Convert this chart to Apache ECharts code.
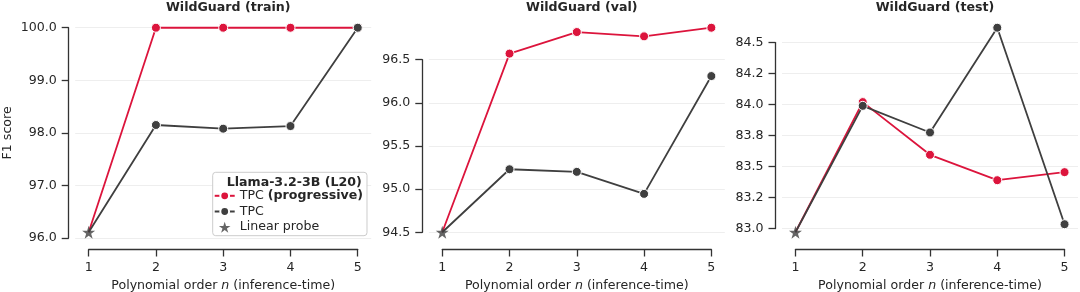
<!DOCTYPE html>
<html><head><meta charset="utf-8">
<script src="https://cdn.jsdelivr.net/npm/echarts@6/dist/echarts.min.js"></script>
<style>html,body{margin:0;padding:0;background:#fff}#c{width:1080px;height:292px}</style>
</head><body><div id="c"></div>
<script>
// ---- data ----
const orders = [1, 2, 3, 4, 5];
const panelTitles = ['WildGuard (train)', 'WildGuard (val)', 'WildGuard (test)'];
const linearProbe = [96.11, 94.5, 82.97];
const tpcProgTrain = [96.11, 100.0, 100.0, 100.0, 100.0];
const tpcTrain     = [96.11, 98.15, 98.08, 98.13, 100.0];
const tpcProgVal   = [94.5, 96.57, 96.82, 96.77, 96.87];
const tpcVal       = [94.5, 95.23, 95.20, 94.945, 96.31];
const tpcProgTest  = [82.97, 84.02, 83.595, 83.39, 83.455];
const tpcTest      = [82.97, 83.99, 83.775, 84.62, 83.035];
const trainTicks = [96, 97, 98, 99, 100];
const trainTickLabels = ['96.0', '97.0', '98.0', '99.0', '100.0'];
const valTicks = [94.5, 95.0, 95.5, 96.0, 96.5];
const valTickLabels = ['94.5', '95.0', '95.5', '96.0', '96.5'];
const testTicks = [83.0, 83.25, 83.5, 83.75, 84.0, 84.25, 84.5];
const testTickLabels = ['83.0', '83.2', '83.5', '83.8', '84.0', '84.2', '84.5'];
const legendTitle = 'Llama-3.2-3B (L20)';
const nameProg = 'TPC (progressive)';
const nameTPC = 'TPC';
const nameLinear = 'Linear probe';
const yLabel = 'F1 score';
const xLabel = 'Polynomial order {i|n} (inference-time)';

// ---- style / layout ----
const RED = '#DC143C', GRAY = '#3f3f3f', TXT = '#262626', SPINE = '#333333';
const FONT = 'DejaVu Sans', FS = 12.6;
const axLeft = [75.2, 428.8, 782.0], axW = 296, axTop = 17.5, axH = 225;
const xMin = 0.8, xMax = 5.2;
const STAR = 'path://M50,0 L61.2,34.5 L97.6,34.5 L68.2,55.9 L79.4,90.5 L50,69.1 L20.6,90.5 L31.8,55.9 L2.4,34.5 L38.8,34.5 Z';

const panels = [
  {prog: tpcProgTrain, tpc: tpcTrain, ticks: trainTicks, labels: trainTickLabels},
  {prog: tpcProgVal, tpc: tpcVal, ticks: valTicks, labels: valTickLabels},
  {prog: tpcProgTest, tpc: tpcTest, ticks: testTicks, labels: testTickLabels}
];

const gridBase = {containLabel: false, outerBoundsMode: 'none'};
const grid = [], xAxis = [], yAxis = [], series = [], title = [];
panels.forEach((p, i) => {
  const all = p.prog.concat(p.tpc, [linearProbe[i]]);
  const dmin = Math.min(...all), dmax = Math.max(...all);
  const lo = dmin - 0.05 * (dmax - dmin), hi = dmax + 0.05 * (dmax - dmin);
  const tMin = p.ticks[0], tMax = p.ticks[p.ticks.length - 1];
  const pxY = v => axTop + (hi - v) / (hi - lo) * axH;
  const pxX = v => axLeft[i] + (v - xMin) / (xMax - xMin) * axW;
  const g0 = grid.length;
  // main data grid
  grid.push(Object.assign({left: axLeft[i], top: axTop, width: axW, height: axH}, gridBase));
  xAxis.push({gridIndex: g0, type: 'value', min: xMin, max: xMax, show: false});
  yAxis.push({gridIndex: g0, type: 'value', min: lo, max: hi, show: false});
  // x spine grid (trimmed to ticks)
  grid.push(Object.assign({left: pxX(1), top: axTop, width: pxX(5) - pxX(1), height: axH}, gridBase));
  xAxis.push({gridIndex: g0 + 1, type: 'value', min: orders[0], max: orders[orders.length - 1], interval: 1,
    position: 'bottom', offset: 7,
    axisLine: {show: true, onZero: false, lineStyle: {color: SPINE, width: 1.3}},
    axisTick: {show: true, length: 7, lineStyle: {color: SPINE, width: 1.3}},
    axisLabel: {margin: 12, color: TXT, fontFamily: FONT, fontSize: FS},
    splitLine: {show: false},
    name: xLabel, nameLocation: 'middle', nameGap: 29,
    nameTextStyle: {color: TXT, fontFamily: FONT, fontSize: FS, rich: {i: {fontStyle: 'italic', fontFamily: FONT, fontSize: FS, color: TXT}}}
  });
  yAxis.push({gridIndex: g0 + 1, type: 'value', min: 0, max: 1, show: false});
  // y spine grid (trimmed to ticks) with gridlines across the axes
  grid.push(Object.assign({left: axLeft[i], top: pxY(tMax), width: axW, height: pxY(tMin) - pxY(tMax)}, gridBase));
  xAxis.push({gridIndex: g0 + 2, type: 'value', min: 0, max: 1, show: false});
  yAxis.push({gridIndex: g0 + 2, type: 'value', min: tMin, max: tMax, interval: p.ticks[1] - p.ticks[0],
    position: 'left', offset: 6.5,
    axisLine: {show: true, onZero: false, lineStyle: {color: SPINE, width: 1.3}},
    axisTick: {show: true, length: 7, lineStyle: {color: SPINE, width: 1.3}},
    axisLabel: {margin: 12, color: TXT, fontFamily: FONT, fontSize: FS,
      formatter: v => { const k = p.ticks.findIndex(t => Math.abs(t - v) < 1e-6); return k >= 0 ? p.labels[k] : ''; }},
    splitLine: {show: true, lineStyle: {color: '#eeeeee', width: 1}},
    name: i === 0 ? yLabel : '', nameLocation: 'middle', nameGap: 54,
    nameTextStyle: {color: TXT, fontFamily: FONT, fontSize: FS}
  });
  title.push({text: panelTitles[i], left: axLeft[i] + axW / 2, top: -4, textAlign: 'center',
    textStyle: {fontFamily: FONT, fontSize: FS, fontWeight: 'bold', color: TXT}});

  const mk = arr => arr.map((v, k) => k === 0 ? {value: [orders[k], v], symbol: 'none'} : [orders[k], v]);
  series.push({name: nameProg, type: 'line', xAxisIndex: g0, yAxisIndex: g0, data: mk(p.prog), clip: false,
    symbol: 'circle', symbolSize: 9, lineStyle: {color: RED, width: 1.8},
    itemStyle: {color: RED, borderColor: '#fff', borderWidth: 1}, z: 3});
  series.push({name: nameTPC, type: 'line', xAxisIndex: g0, yAxisIndex: g0, data: mk(p.tpc), clip: false,
    symbol: 'circle', symbolSize: 9, lineStyle: {color: GRAY, width: 1.8},
    itemStyle: {color: GRAY, borderColor: '#fff', borderWidth: 1}, z: 4});
  series.push({name: nameLinear, type: 'scatter', xAxisIndex: g0, yAxisIndex: g0, data: [[orders[0], linearProbe[i]]],
    clip: false, symbol: STAR, symbolSize: 13, itemStyle: {color: GRAY}, z: 5});
});

title.push({text: legendTitle, left: 289.2, top: 171, textAlign: 'center', z: 10,
  textStyle: {fontFamily: FONT, fontSize: FS, fontWeight: 'bold', color: TXT}});

const option = {
  animation: false,
  backgroundColor: '#fff',
  title: title,
  grid: grid, xAxis: xAxis, yAxis: yAxis, series: series,
  legend: {
    data: [nameProg, nameTPC, nameLinear],
    orient: 'vertical', left: 212.7, top: 172.3,
    padding: [17, 4, 2, 1], itemGap: 2.7, itemWidth: 20, itemHeight: 11,
    backgroundColor: 'rgba(255,255,255,0.9)', borderColor: '#cccccc', borderWidth: 1, borderRadius: 3,
    selectedMode: false,
    formatter: n => n === nameProg ? '{n|TPC }{b|(progressive)}' : '{n|' + n + '}',
    textStyle: {fontFamily: FONT, fontSize: FS, color: TXT,
      rich: {n: {fontFamily: FONT, fontSize: FS, color: TXT}, b: {fontFamily: FONT, fontSize: FS, color: TXT, fontWeight: 'bold'}}}
  }
};
const chart = echarts.init(document.getElementById('c'), null, {renderer: 'canvas'});
chart.setOption(option);
</script></body></html>
